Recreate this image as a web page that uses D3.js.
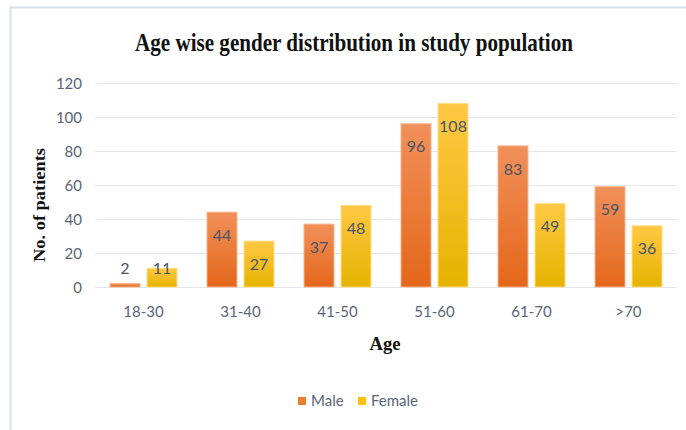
<!DOCTYPE html>
<html>
<head>
<meta charset="utf-8">
<script src="https://cdn.jsdelivr.net/npm/d3@7"></script>
<style>
  html, body { margin: 0; padding: 0; background: #fff; }
  svg { display: block; }
</style>
</head>
<body>
<svg id="chart" width="686" height="430"></svg>
<script>
// Age groups and patient counts by gender
const categories = ["18-30", "31-40", "41-50", "51-60", "61-70", ">70"];
const seriesNames = ["Male", "Female"];
const male = [2, 44, 37, 96, 83, 59];
const female = [11, 27, 48, 108, 49, 36];
const yTicks = [0, 20, 40, 60, 80, 100, 120];

const svg = d3.select("#chart");
const W = 686, H = 430;

// Outer chart-area frame
svg.append("rect").attr("width", W).attr("height", H).attr("fill", "#fff");
svg.append("path")
  .attr("d", `M10.5,${H} V7.5 H${W}`)
  .attr("fill", "none").attr("stroke", "#D9DDE4").attr("stroke-width", 2);

// Gradients for the two series
const defs = svg.append("defs");
const grads = [
  { id: "gMale", top: "#F1905A", bottom: "#E4671A" },
  { id: "gFemale", top: "#FFC845", bottom: "#E6B300" }
];
grads.forEach(g => {
  const lg = defs.append("linearGradient").attr("id", g.id)
    .attr("x1", 0).attr("y1", 0).attr("x2", 0).attr("y2", 1);
  lg.append("stop").attr("offset", "0%").attr("stop-color", g.top);
  lg.append("stop").attr("offset", "100%").attr("stop-color", g.bottom);
});
const fills = ["url(#gMale)", "url(#gFemale)"];
const legendColors = ["#ED7D31", "#FFC000"];

const plot = { left: 95, right: 677, top: 83, bottom: 287 };

const x = d3.scaleBand().domain(categories).range([plot.left, plot.right]).padding(0);
const y = d3.scaleLinear().domain([0, 120]).range([plot.bottom, plot.top]);
const barW = 30, gap = 7;

// Gridlines
svg.append("g")
  .selectAll("line").data(yTicks).join("line")
  .attr("x1", plot.left).attr("x2", plot.right)
  .attr("y1", d => Math.round(y(d)) + 0.5).attr("y2", d => Math.round(y(d)) + 0.5)
  .attr("stroke", "#E3E6EA").attr("stroke-width", 1.2);

// Y axis labels
const yAxis = d3.axisLeft(y).tickValues(yTicks).tickSize(0).tickPadding(0);
const ya = svg.append("g").attr("transform", `translate(${plot.left - 13},0)`).call(yAxis);
ya.select(".domain").remove();
ya.selectAll("text")
  .attr("fill", "#5A6478").attr("font-family", "Lato, 'Open Sans', sans-serif")
  .attr("font-size", 15).attr("dy", "0.35em");

// X axis labels
const xAxis = d3.axisBottom(x).tickSize(0).tickPadding(0);
const xa = svg.append("g").attr("transform", `translate(0,${plot.bottom + 19})`).call(xAxis);
xa.select(".domain").remove();
xa.selectAll("text")
  .attr("fill", "#5A6478").attr("font-family", "Lato, 'Open Sans', sans-serif")
  .attr("font-size", 15).attr("dy", "0.71em");

// Bars
const rows = categories.map((c, i) => ({ cat: c, vals: [male[i], female[i]] }));
const groups = svg.append("g").selectAll("g").data(rows).join("g")
  .attr("transform", d => `translate(${x(d.cat) + (x.bandwidth() - (barW * 2 + gap)) / 2},0)`);

const bars = groups.selectAll("g").data(d => d.vals.map((v, k) => ({ v, k }))).join("g");
bars.append("rect")
  .attr("x", d => d.k * (barW + gap))
  .attr("y", d => y(d.v))
  .attr("width", barW)
  .attr("height", d => y(0) - y(d.v))
  .attr("fill", d => fills[d.k])
  .attr("stroke", d => d.k === 0 ? "#F6B48E" : "#FFDD85")
  .attr("stroke-width", 1);

// Value labels near bar tops
bars.append("text")
  .attr("x", d => d.k * (barW + gap) + barW / 2)
  .attr("y", d => Math.min(y(d.v) + 23, y(0) - 19))
  .attr("text-anchor", "middle").attr("dy", "0.35em")
  .attr("fill", "#4A5468").attr("font-family", "Lato, 'Open Sans', sans-serif")
  .attr("font-size", 16)
  .text(d => d.v);

// Title
svg.append("text")
  .attr("x", 354).attr("y", 51).attr("text-anchor", "middle")
  .attr("font-family", "'Liberation Serif', 'Times New Roman', serif")
  .attr("font-weight", "bold").attr("font-size", 26).attr("fill", "#111")
  .attr("textLength", 438).attr("lengthAdjust", "spacingAndGlyphs")
  .text("Age wise gender distribution in study population");

// Axis titles
svg.append("text")
  .attr("transform", "translate(45,205) rotate(-90)")
  .attr("text-anchor", "middle")
  .attr("font-family", "'Liberation Serif', 'Times New Roman', serif")
  .attr("font-weight", "bold").attr("font-size", 17).attr("fill", "#111")
  .attr("textLength", 114).attr("lengthAdjust", "spacingAndGlyphs")
  .text("No. of patients");

svg.append("text")
  .attr("x", 385).attr("y", 350).attr("text-anchor", "middle")
  .attr("font-family", "'Liberation Serif', 'Times New Roman', serif")
  .attr("font-weight", "bold").attr("font-size", 18).attr("fill", "#111")
  .attr("textLength", 31).attr("lengthAdjust", "spacingAndGlyphs")
  .text("Age");

// Legend
const legend = svg.append("g").attr("transform", "translate(298,401)");
const legendX = [0, 60];
seriesNames.forEach((name, k) => {
  const g = legend.append("g").attr("transform", `translate(${legendX[k]},0)`);
  g.append("rect").attr("x", 0).attr("y", -4).attr("width", 8).attr("height", 8)
    .attr("fill", legendColors[k]);
  g.append("text").attr("x", 13).attr("y", 0).attr("dy", "0.35em")
    .attr("fill", "#5A6478").attr("font-family", "Lato, 'Open Sans', sans-serif")
    .attr("font-size", 15).text(name);
});
</script>
</body>
</html>
